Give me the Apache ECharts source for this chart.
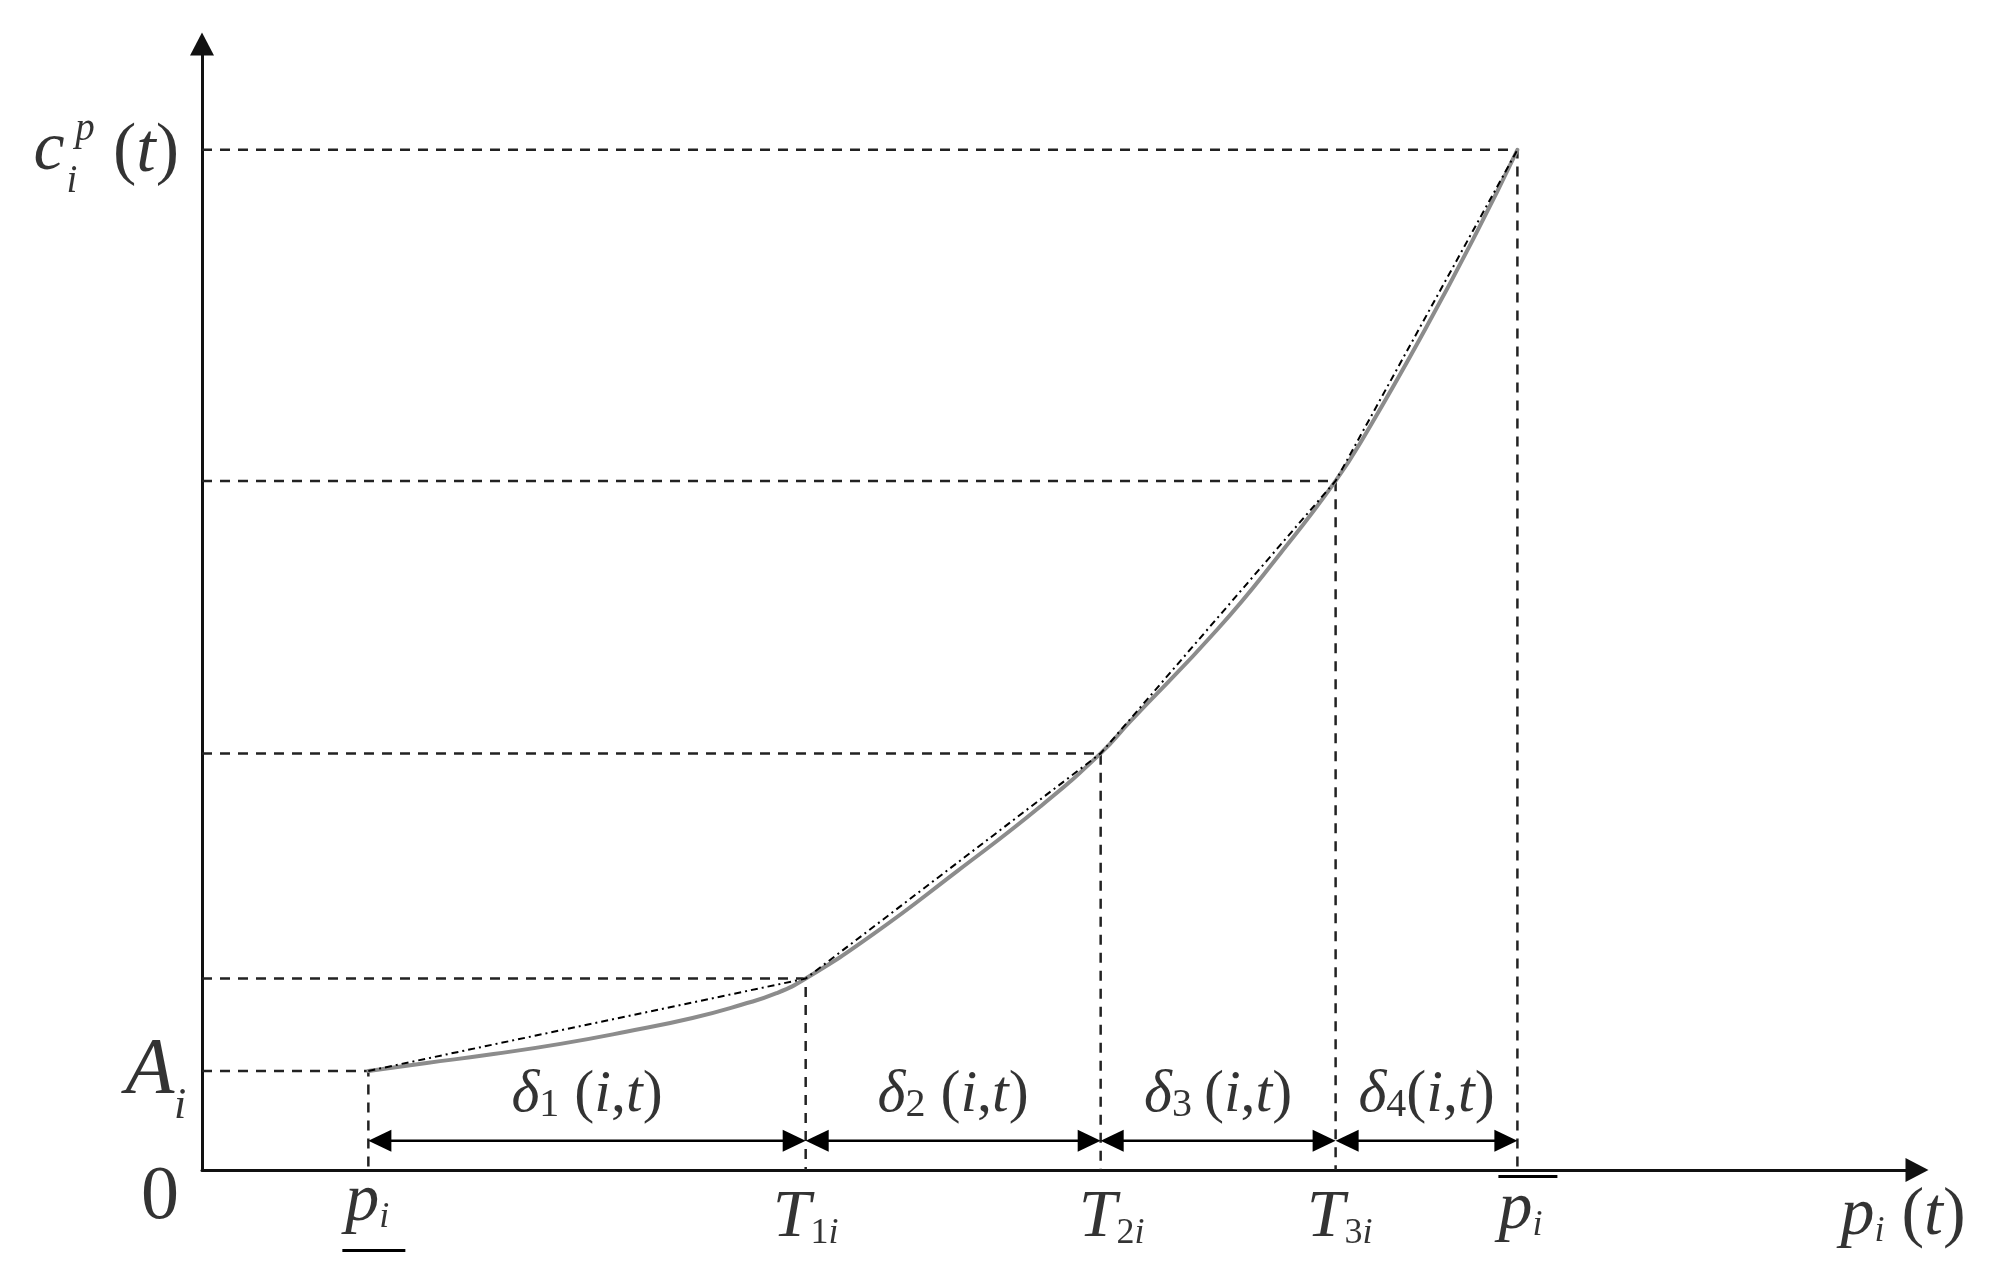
<!DOCTYPE html>
<html>
<head>
<meta charset="utf-8">
<style>
  html, body { margin: 0; padding: 0; background: #fff; }
  #chart { width: 1993px; height: 1288px; }
</style>
<script src="https://cdn.jsdelivr.net/npm/echarts@6/dist/echarts.min.js"></script>
</head>
<body>
<div id="chart"></div>
<script>
// breakpoints of the piecewise linearisation: p_min, T1, T2, T3, p_max
const breakX = [9.7, 35.2, 52.4, 66.1, 76.7];
const breakY = [8.8, 17.0, 37.0, 61.2, 90.6];
// the cost curve c_i^p(t)
const curveX = [9.7, 13.1, 17.0, 20.9, 24.8, 28.6, 31.5, 33.5, 35.2, 39.1, 44.0, 48.9, 52.4, 54.1, 59.2, 62.9, 66.1, 67.9, 71.3, 74.3, 76.7];
const curveY = [8.8, 9.5, 10.3, 11.2, 12.3, 13.5, 14.7, 15.7, 17.0, 20.9, 26.5, 32.3, 37.0, 39.8, 48.0, 54.8, 61.2, 65.5, 74.6, 83.2, 90.6];
// level of the delta dimension arrows
const arrowLevel = 2.6;
// tick names under the x axis
const xTickMain = ['p', 'T', 'T', 'T', 'p'];
const xTickSub = ['', '1', '2', '3', ''];
const deltaSub = ['1', '2', '3', '4'];

const serif = '"Liberation Serif", "Times New Roman", serif';
const ink = '#000';

const rich = {
  it: { fontFamily: serif, fontStyle: 'italic', fontSize: 68, lineHeight: 68, color: ink },
  rm: { fontFamily: serif, fontSize: 68, lineHeight: 68, color: ink },
  sn: { fontFamily: serif, fontSize: 36, lineHeight: 25, verticalAlign: 'bottom', color: ink },
  sb: { fontFamily: serif, fontStyle: 'italic', fontSize: 36, lineHeight: 25, verticalAlign: 'bottom', color: ink },
  zero: { fontFamily: serif, fontSize: 76, lineHeight: 76, color: ink },
  big: { fontFamily: serif, fontStyle: 'italic', fontSize: 80, lineHeight: 80, color: ink },
  bigSub: { fontFamily: serif, fontStyle: 'italic', fontSize: 44, lineHeight: 44, color: ink },
  c: { fontFamily: serif, fontStyle: 'italic', fontSize: 70, lineHeight: 70, color: ink },
  cr: { fontFamily: serif, fontSize: 70, lineHeight: 70, color: ink },
  cs: { fontFamily: serif, fontStyle: 'italic', fontSize: 39, lineHeight: 39, color: ink },
  dl: { fontFamily: serif, fontStyle: 'italic', fontSize: 60, lineHeight: 60, color: ink },
  dr: { fontFamily: serif, fontSize: 60, lineHeight: 60, color: ink },
  ds: { fontFamily: serif, fontSize: 40, lineHeight: 13, verticalAlign: 'bottom', color: ink }
};

const labelItems = [];
function addLabel(x, y, text, dx, dy) {
  labelItems.push({ value: [x, y], label: { formatter: text, offset: [dx, dy] } });
}

// y axis names
addLabel(0, 0, '{zero|0}', -42, 28);
addLabel(0, breakY[0], '{big|A}', -52, 1);
addLabel(0, breakY[0], '{bigSub|i}', -22, 36);
addLabel(0, breakY[4], '{c|c}', -153, 1);
addLabel(0, breakY[4], '{cs|p}', -117, -20);
addLabel(0, breakY[4], '{cs|i}', -130, 32);
addLabel(0, breakY[4], '{cr|(}{c|t}{cr|)}', -56, 3);

// x axis names
const xTickShift = [-1, 0, 11, 4, 3];
const xTickDrop = [32, 48, 48, 48, 40];
breakX.forEach((x, i) => {
  const s = xTickSub[i] ? '{sn|' + xTickSub[i] + '}' : '';
  addLabel(x, 0, '{it|' + xTickMain[i] + '}' + s + '{sb|i}', xTickShift[i], xTickDrop[i]);
});
addLabel(100, 0, '{it|p}{sb|i}{rm| (}{it|t}{rm|)}', -14, 46);

// delta labels above the arrows
deltaSub.forEach((d, i) => {
  const gap = i < 2 ? ' (' : (i === 2 ? '\u2009(' : '(');
  addLabel((breakX[i] + breakX[i + 1]) / 2, arrowLevel,
    '{dl|\u03b4}{ds|' + d + '}{dr|' + gap + '}{dl|i}{dr|,}{dl|t}{dr|)}', 0, -45);
});

const series = [];

// dashed guides from both axes to every breakpoint
breakX.forEach((x, i) => {
  series.push({
    type: 'line',
    data: [[0, breakY[i]], [x, breakY[i]], [x, 0]],
    symbol: 'none',
    silent: true,
    z: 1,
    lineStyle: { color: '#222', width: 2.5, type: [10, 8] }
  });
});

// cost curve
series.push({
  type: 'line',
  data: curveX.map((x, i) => [x, curveY[i]]),
  smooth: 0.5,
  symbol: 'none',
  silent: true,
  z: 2,
  lineStyle: { color: '#8c8c8c', width: 4, cap: 'round' }
});

// linear pieces
series.push({
  type: 'line',
  data: breakX.map((x, i) => [x, breakY[i]]),
  symbol: 'none',
  silent: true,
  z: 3,
  lineStyle: { color: '#000', width: 2, type: [7, 4, 2, 4] }
});

// double headed dimension arrows
series.push({
  type: 'custom',
  silent: true,
  z: 4,
  encode: { x: [0, 1], y: 2 },
  data: deltaSub.map((d, i) => [breakX[i], breakX[i + 1], arrowLevel]),
  renderItem: function (params, api) {
    const a = api.coord([api.value(0), api.value(2)]);
    const b = api.coord([api.value(1), api.value(2)]);
    const L = 23, W = 11;
    return {
      type: 'group',
      children: [
        { type: 'line', shape: { x1: a[0] + L - 2, y1: a[1], x2: b[0] - L + 2, y2: b[1] }, style: { stroke: ink, lineWidth: 2.5 } },
        { type: 'polygon', shape: { points: [a, [a[0] + L, a[1] - W], [a[0] + L, a[1] + W]] }, style: { fill: ink } },
        { type: 'polygon', shape: { points: [b, [b[0] - L, b[1] - W], [b[0] - L, b[1] + W]] }, style: { fill: ink } }
      ]
    };
  }
});

// under bar of p_min and over bar of p_max
series.push({
  type: 'custom',
  silent: true,
  z: 4,
  data: [[breakX[0], 0], [breakX[4], 0]],
  renderItem: function (params, api) {
    const p = api.coord([api.value(0), api.value(1)]);
    const under = params.dataIndex === 0;
    return {
      type: 'rect',
      shape: under ? { x: p[0] - 26, y: p[1] + 79, width: 63, height: 3 }
                   : { x: p[0] - 19, y: p[1] + 5, width: 59, height: 3 },
      style: { fill: ink }
    };
  }
});

// all text
series.push({
  type: 'scatter',
  data: labelItems,
  symbolSize: 1,
  silent: true,
  z: 5,
  itemStyle: { color: 'rgba(0,0,0,0)' },
  label: { show: true, position: 'inside', align: 'center', verticalAlign: 'middle', rich: rich }
});

const axisCommon = {
  type: 'value',
  min: 0,
  max: 100,
  axisLine: {
    show: true,
    symbol: ['none', 'triangle'],
    symbolSize: [24, 23],
    lineStyle: { color: '#111', width: 3 }
  },
  axisTick: { show: false },
  axisLabel: { show: false },
  splitLine: { show: false }
};

const chart = echarts.init(document.getElementById('chart'));
chart.setOption({
  backgroundColor: '#fff',
  animation: false,
  grid: { left: 202, right: 76, top: 44, bottom: 118 },
  xAxis: axisCommon,
  yAxis: axisCommon,
  series: series
});
</script>
</body>
</html>
